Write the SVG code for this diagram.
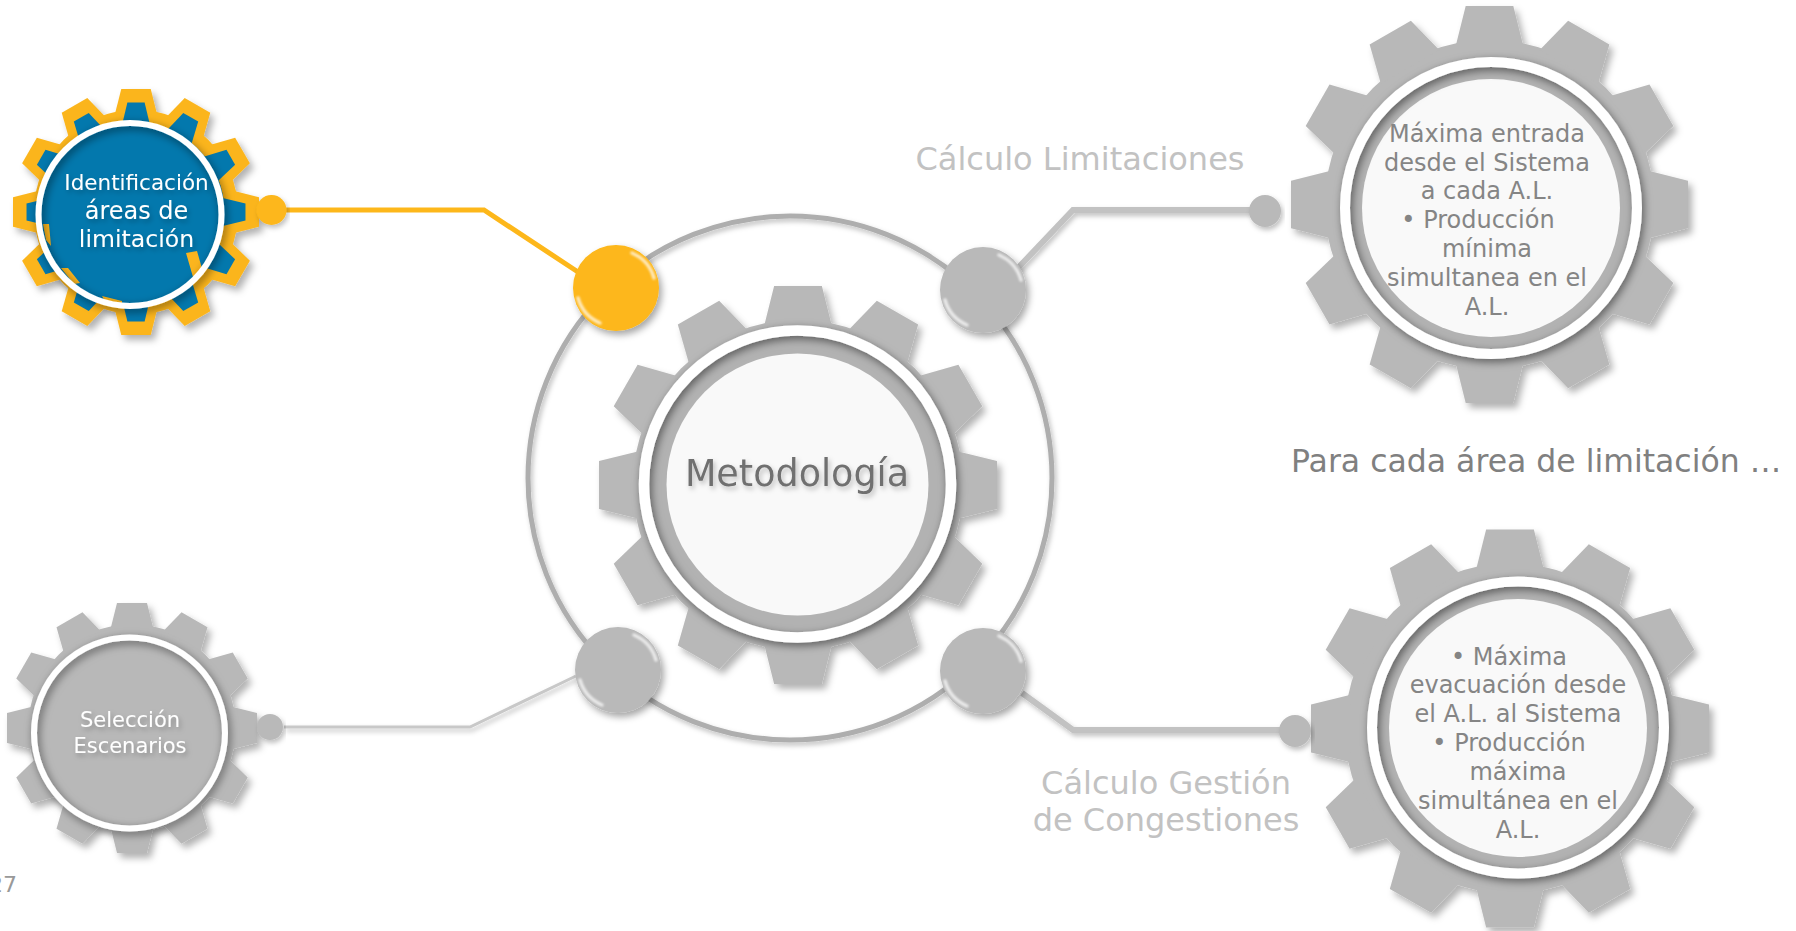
<svg xmlns="http://www.w3.org/2000/svg" width="1796" height="931" viewBox="0 0 1796 931">
<style>
text{font-family:"DejaVu Sans","Liberation Sans",sans-serif;text-anchor:middle}
.dark{fill:#858585;font-size:24px}
.wt{fill:#fff;filter:url(#ts)}
.lab{fill:#c2c2c2;font-size:32px}
.gg{fill:#b8b8b8;filter:url(#gs)}
.ring{fill:none;stroke:#fff;filter:url(#rs)}
.disc{fill:#f9f9f9}
.mid{fill:#b2b2b2}
.ball{fill:#b9b9b9;filter:url(#bs)}
.hl{fill:none;stroke:#fff;stroke-width:3.5;stroke-linecap:round;opacity:.7;filter:url(#bl)}
.cg{fill:none;stroke:#c2c2c2;stroke-width:6;filter:url(#ls)}
.dot{fill:#b9b9b9;filter:url(#ls)}
</style>
<defs>
<filter id="gs" x="-15%" y="-15%" width="130%" height="130%"><feDropShadow dx="4" dy="5" stdDeviation="3.5" flood-color="#000" flood-opacity=".3"/></filter>
<filter id="rs" x="-15%" y="-15%" width="130%" height="130%"><feDropShadow dx="2" dy="3" stdDeviation="4" flood-color="#000" flood-opacity=".5"/></filter>
<filter id="bs" x="-25%" y="-25%" width="150%" height="150%"><feDropShadow dx="3" dy="4" stdDeviation="3.5" flood-color="#000" flood-opacity=".35"/></filter>
<filter id="ls" x="-10%" y="-30%" width="120%" height="160%"><feDropShadow dx="2" dy="3" stdDeviation="2.5" flood-color="#000" flood-opacity=".25"/></filter>
<filter id="ts" x="-15%" y="-30%" width="130%" height="160%"><feDropShadow dx="2" dy="3" stdDeviation="2.5" flood-color="#000" flood-opacity=".25"/></filter>
<filter id="bl" x="-30%" y="-30%" width="160%" height="160%"><feGaussianBlur stdDeviation="1.2"/></filter>
<polygon id="t" points="-12,-100 12,-100 17,-80 -17,-80"/>
<g id="gear">
<circle r="83"/>
<use href="#t"/><use href="#t" transform="rotate(30)"/><use href="#t" transform="rotate(60)"/><use href="#t" transform="rotate(90)"/><use href="#t" transform="rotate(120)"/><use href="#t" transform="rotate(150)"/><use href="#t" transform="rotate(180)"/><use href="#t" transform="rotate(210)"/><use href="#t" transform="rotate(240)"/><use href="#t" transform="rotate(270)"/><use href="#t" transform="rotate(300)"/><use href="#t" transform="rotate(330)"/>
</g>
<polygon id="t2" points="-7,-89 7,-89 12,-68 -12,-68"/>
<g id="gear2">
<circle r="72"/>
<use href="#t2"/><use href="#t2" transform="rotate(30)"/><use href="#t2" transform="rotate(60)"/><use href="#t2" transform="rotate(90)"/><use href="#t2" transform="rotate(120)"/><use href="#t2" transform="rotate(150)"/><use href="#t2" transform="rotate(180)"/><use href="#t2" transform="rotate(210)"/><use href="#t2" transform="rotate(240)"/><use href="#t2" transform="rotate(270)"/><use href="#t2" transform="rotate(300)"/><use href="#t2" transform="rotate(330)"/>
</g>
<g id="hl"><path class="hl" d="M16,-35 A39,39 0 0 1 38,-10"/><path class="hl" d="M-16,35 A39,39 0 0 1 -38,10"/></g>
</defs>

<g id="connectors">
<circle cx="790" cy="478" r="262" fill="none" stroke="#aeaeae" stroke-width="5" filter="url(#ls)"/>
<path d="M284,210H484L578,272" fill="none" stroke="#fdb71a" stroke-width="5"/>
<path class="cg" d="M1017,269L1073,210H1254"/>
<path class="cg" d="M284,727H470L576,676" style="stroke-width:3;stroke:#c8c8c8"/>
<path class="cg" d="M1022,693L1073,730H1283"/>
</g>

<g id="ball-yellow"><circle cx="616" cy="288" r="43" fill="#fdb71a" filter="url(#bs)"/><use href="#hl" transform="translate(616,288)"/></g>
<g id="ball-tr"><circle class="ball" cx="983" cy="290" r="43"/><use href="#hl" transform="translate(983,290)"/></g>
<g id="ball-bl"><circle class="ball" cx="618" cy="670" r="43"/><use href="#hl" transform="translate(618,670)"/></g>
<g id="ball-br"><circle class="ball" cx="983" cy="671" r="43"/><use href="#hl" transform="translate(983,671)"/></g>

<g id="node-metodologia">
<g class="gg"><use href="#gear" transform="translate(798,485) scale(1.99)"/></g>
<circle class="mid" cx="797.5" cy="484.5" r="150"/>
<circle class="disc" cx="797.5" cy="484.5" r="131"/>
<circle class="ring" cx="797.5" cy="484" r="153.5" stroke-width="10.5"/>
<text x="797" y="486" font-size="36.5" fill="#707070" filter="url(#ts)">Metodología</text>
</g>

<g id="node-identificacion">
<g filter="url(#gs)"><use href="#gear" fill="#fbb51e" transform="translate(136,212) scale(1.23)"/></g>
<use href="#gear2" fill="#0378ad" transform="translate(136,212) scale(1.23)"/>
<circle cx="130" cy="214.5" r="90" fill="#0378ad"/>
<path fill="#fbb51e" d="M186,253L197,251L203,272L193,277ZM43,224L49,224L51,246L46,240ZM61,268L68,268L80,283L74,284ZM102,296L122,301L122,304L106,303Z"/>
<circle class="ring" cx="130" cy="214.5" r="91.5" stroke-width="6"/>
<text class="wt" x="136.5" y="190" font-size="21.5">Identificación</text>
<text class="wt" x="136.5" y="219" font-size="24">áreas de</text>
<text class="wt" x="136.5" y="247" font-size="23.6">limitación</text>
<circle cx="271.5" cy="210" r="15" fill="#fdb71a" filter="url(#ls)"/>
</g>

<g id="node-seleccion">
<g class="gg"><use href="#gear" transform="translate(132,728) scale(1.25)"/></g>
<circle cx="129.5" cy="733" r="95" fill="#b8b8b8"/>
<circle class="ring" cx="129.5" cy="733" r="95.5" stroke-width="6"/>
<text class="wt" x="130" y="727" font-size="21">Selección</text>
<text class="wt" x="130" y="753" font-size="21">Escenarios</text>
<circle class="dot" cx="270" cy="727" r="13"/>
</g>

<g id="node-limitaciones">
<g class="gg"><use href="#gear" transform="translate(1489.5,204.5) scale(1.985)"/></g>
<circle class="mid" cx="1491" cy="208" r="142"/>
<circle class="disc" cx="1491" cy="208" r="129"/>
<circle class="ring" cx="1491" cy="208" r="146" stroke-width="10"/>
<text class="dark" x="1487" y="142">Máxima entrada</text>
<text class="dark" x="1487" y="171">desde el Sistema</text>
<text class="dark" x="1487" y="199">a cada A.L.</text>
<text class="dark" x="1478" y="228">• Producción</text>
<text class="dark" x="1487" y="257">mínima</text>
<text class="dark" x="1487" y="286">simultanea en el</text>
<text class="dark" x="1487" y="315">A.L.</text>
<circle class="dot" cx="1265" cy="211" r="16"/>
</g>

<g id="node-congestiones">
<g class="gg"><use href="#gear" transform="translate(1510,728.5) scale(1.99)"/></g>
<circle class="mid" cx="1518" cy="728" r="142"/>
<circle class="disc" cx="1518" cy="728" r="129"/>
<circle class="ring" cx="1518" cy="727.5" r="146" stroke-width="10"/>
<text class="dark" x="1509" y="665">• Máxima</text>
<text class="dark" x="1518" y="693">evacuación desde</text>
<text class="dark" x="1518" y="722">el A.L. al Sistema</text>
<text class="dark" x="1509" y="751">• Producción</text>
<text class="dark" x="1518" y="780">máxima</text>
<text class="dark" x="1518" y="809">simultánea en el</text>
<text class="dark" x="1518" y="838">A.L.</text>
<circle class="dot" cx="1295" cy="731" r="16"/>
</g>

<g id="labels">
<text class="lab" x="1080" y="170">Cálculo Limitaciones</text>
<text class="lab" x="1166" y="794">Cálculo Gestión</text>
<text class="lab" x="1166" y="831">de Congestiones</text>
<text x="1291" y="472" font-size="31.5" fill="#808080" style="text-anchor:start">Para cada área de limitación …</text>
<text x="17" y="892" font-size="22" fill="#999" style="text-anchor:end">27</text>
</g>
</svg>
